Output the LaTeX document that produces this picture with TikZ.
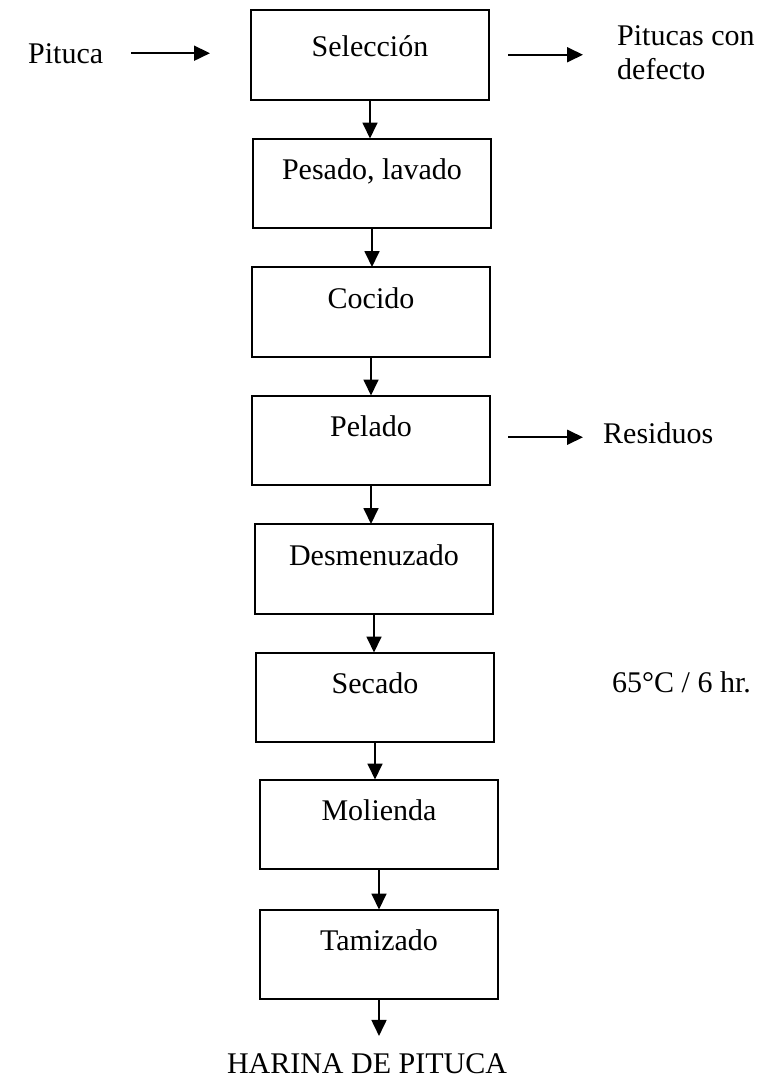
\documentclass[tikz,border=0pt]{standalone}
\usepackage{fontspec}
\setmainfont{Liberation Serif}
\usepackage{tikz}
\usetikzlibrary{arrows.meta,positioning}

\begin{document}
\begin{tikzpicture}[
        x=1pt, y=-1pt,
        node distance=39pt,
        every node/.style={font=\fontsize{30}{34}\selectfont},
        box/.style={rectangle, draw, line width=2pt, outer sep=0pt, minimum width=238pt, inner xsep=0pt, inner ysep=0pt, text height=41pt, text depth=48.5pt},
        txt/.style={inner sep=0pt, align=left},
        arrow/.style={-{Triangle[length=16pt,width=15pt]}, line width=1.8pt}
    ]
        \useasboundingbox (0,0) rectangle (763,1079);

        % Process steps
        \node[box, anchor=north, text height=46pt, text depth=43.5pt] (seleccion) at (370,10) {Selección};
        \node[box, below=of seleccion, xshift=2pt] (pesado) {Pesado, lavado};
        \node[box, below=of pesado, xshift=-1pt] (cocido) {Cocido};
        \node[box, below=of cocido] (pelado) {Pelado};
        \node[box, below=of pelado, xshift=3pt] (desmenuzado) {Desmenuzado};
        \node[box, below=of desmenuzado, xshift=1pt] (secado) {Secado};
        \node[box, below=37.5pt of secado, xshift=4pt] (molienda) {Molienda};
        \node[box, below=40.5pt of molienda] (tamizado) {Tamizado};

        % Inputs and outputs
        \node[txt, anchor=base west] (pituca) at (28,63) {Pituca};
        \node[txt, anchor=north west] (defecto) at (617,25) {Pitucas con\\defecto};
        \node[txt, anchor=base west] (residuos) at (603,443) {Residuos};
        \node[txt, anchor=base west] (temp) at (612,692) {65°C / 6 hr.};
        \node[txt, anchor=base] (harina) at (367,1073) {HARINA DE PITUCA};

        % Arrows
        \draw[arrow] (seleccion) -- (seleccion |- pesado.north);
        \draw[arrow] (pesado) -- (pesado |- cocido.north);
        \draw[arrow] (cocido) -- (cocido |- pelado.north);
        \draw[arrow] (pelado) -- (pelado |- desmenuzado.north);
        \draw[arrow] (desmenuzado) -- (desmenuzado |- secado.north);
        \draw[arrow] (secado) -- (secado |- molienda.north);
        \draw[arrow] (molienda) -- (molienda |- tamizado.north);
        \draw[arrow, shorten >=17pt] (tamizado) -- (tamizado |- harina.north);

        \draw[arrow, shorten <=28pt, shorten >=41pt] (pituca.east) -- (pituca.east -| seleccion.west);
        \draw[arrow, shorten <=19pt, shorten >=34pt] (seleccion.east) -- (seleccion.east -| defecto.west);
        \draw[arrow, shorten <=18pt, shorten >=20pt] ([yshift=3pt]pelado.east) -- ([yshift=3pt]pelado.east -| residuos.west);

    \end{tikzpicture}
\end{document}
